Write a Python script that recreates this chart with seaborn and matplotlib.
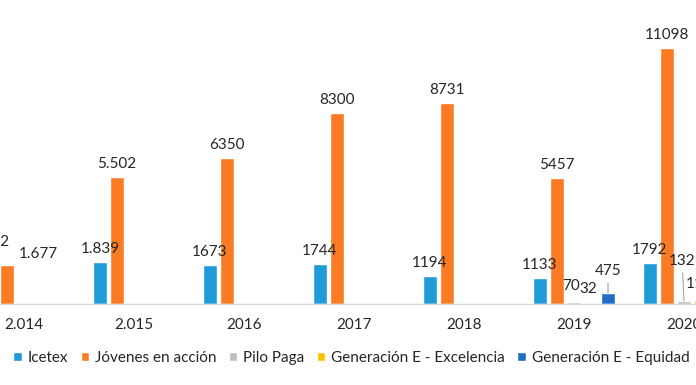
import pandas as pd
import matplotlib.pyplot as plt
import seaborn as sns

# Datos (recortado a izquierda y derecha)
anios = ["2.014", "2.015", "2016", "2017", "2018", "2019", "2020"]
programas = ["Icetex", "Jóvenes en acción", "Pilo Paga",
             "Generación E - Excelencia", "Generación E - Equidad"]

icetex = [2122, 1839, 1673, 1744, 1194, 1133, 1792]
jovenes = [1677, 5502, 6350, 8300, 8731, 5457, 11098]
pilo_paga = [0, 0, 0, 0, 0, 70, 132]
gen_e_excelencia = [0, 0, 0, 0, 0, 32, 118]
gen_e_equidad = [0, 0, 0, 0, 0, 475, 1210]

etiquetas = {
    "Icetex": ["2.122", "1.839", "1673", "1744", "1194", "1133", "1792"],
    "Jóvenes en acción": ["1.677", "5.502", "6350", "8300", "8731", "5457", "11098"],
    "Pilo Paga": ["", "", "", "", "", "70", "132"],
    "Generación E - Excelencia": ["", "", "", "", "", "32", "118"],
    "Generación E - Equidad": ["", "", "", "", "", "475", "1210"],
}

colores = ["#1F9BD7", "#FA7B24", "#BFBFBF", "#FFC000", "#1F6FC6"]

# desplazamientos manuales de etiquetas (en pixeles), como en Excel
ajustes = {
    ("Jóvenes en acción", "2.014"): (31, 7, False),
    ("Pilo Paga", "2019"): (-3, 12, False),
    ("Generación E - Excelencia", "2019"): (-3, 10, False),
    ("Generación E - Equidad", "2019"): (0, 18, True),
    ("Pilo Paga", "2020"): (-2, 36, True),
    ("Generación E - Excelencia", "2020"): (-2, 13, False),
}

series = [icetex, jovenes, pilo_paga, gen_e_excelencia, gen_e_equidad]
filas = []
for prog, vals in zip(programas, series):
    for anio, v in zip(anios, vals):
        filas.append({"Año": anio, "Programa": prog, "Valor": v})
df = pd.DataFrame(filas)

sns.set_theme(style="white")
plt.rcParams["font.family"] = ["Lato", "DejaVu Sans"]

fig = plt.figure(figsize=(6.96, 3.85), dpi=100)
ax = fig.add_axes([0, 81 / 385, 1, 304 / 385])

sns.barplot(data=df, x="Año", y="Valor", hue="Programa", order=anios,
            hue_order=programas, palette=colores, width=0.773, gap=0.18,
            saturation=1, ax=ax)

ax.set_xlim(-0.218, 6.109)
ax.set_ylim(0, 13177)
ax.set_xlabel("")
ax.set_ylabel("")
ax.set_yticks([])
for s in ["top", "left", "right"]:
    ax.spines[s].set_visible(False)
ax.spines["bottom"].set_color("#D9D9D9")
ax.spines["bottom"].set_linewidth(1)
ax.tick_params(axis="x", length=0, pad=10, labelsize=11, labelcolor="#262626")

for cont, prog in zip(ax.containers, programas):
    for bar, anio, txt in zip(cont, anios, etiquetas[prog]):
        if not txt:
            continue
        xc = bar.get_x() + bar.get_width() / 2
        dx, dy, linea = ajustes.get((prog, anio), (0, 9, False))
        props = dict(arrowstyle="-", color="#A6A6A6", lw=0.8,
                     shrinkA=1, shrinkB=0) if linea else None
        ax.annotate(txt, xy=(xc, bar.get_height()), xytext=(dx, dy),
                    textcoords="offset pixels", ha="center", va="baseline",
                    fontsize=11, color="#262626", arrowprops=props,
                    annotation_clip=False, clip_on=True)

ax.legend_.remove()
handles, labels = ax.get_legend_handles_labels()
fig.legend(handles, labels, loc="center", bbox_to_anchor=(0.505, 27 / 385),
           ncol=5, frameon=False, fontsize=11, handlelength=0.55,
           handleheight=0.55, handletextpad=0.4, columnspacing=0.8,
           labelcolor="#262626")

fig.savefig("out.png", dpi=100)
